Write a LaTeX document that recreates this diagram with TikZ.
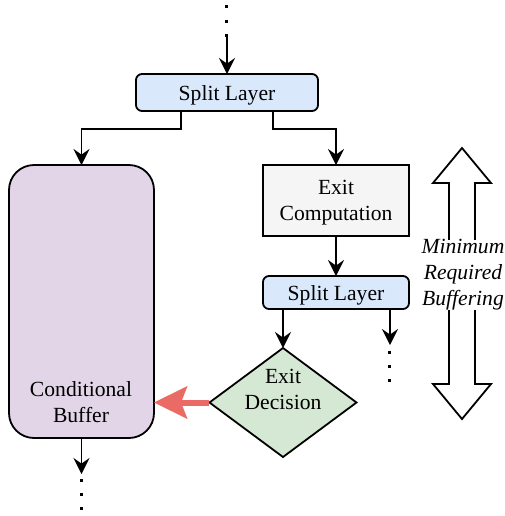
\documentclass[tikz,border=0pt]{standalone}
\usepackage{fontspec}
\setmainfont{Liberation Serif}
\usetikzlibrary{arrows.meta,shapes.geometric}
\definecolor{layerblue}{HTML}{DAE8FC}
\definecolor{bufpurple}{HTML}{E1D5E7}
\definecolor{compgrey}{HTML}{F5F5F5}
\definecolor{decgreen}{HTML}{D5E8D4}
\definecolor{flowred}{HTML}{EA6B66}
\begin{document}
\begin{tikzpicture}[x=0.5pt,y=-0.5pt,
  font=\fontsize{10.8}{13}\selectfont,
  box/.style={draw=black, line width=0.9pt, inner sep=0pt, outer sep=0pt, align=center, text depth=0pt},
  layerbox/.style={box, fill=layerblue, rounded corners=3pt, minimum width=91pt},
  arr/.style={line width=0.9pt, -{Stealth[length=8pt,width=8pt,inset=2.8pt]}},
  redarr/.style={draw=flowred, line width=3pt, -{Stealth[length=16.5pt,width=16pt,inset=3pt]}},
  dot/.style={fill=black}
]
\useasboundingbox (0,0) rectangle (505,516);

% blocks
\node[layerbox, minimum height=18.5pt] (split1) at (227,92.5) {Split Layer};
\node[box, fill=bufpurple, rounded corners=12.5pt, minimum width=72.5pt, minimum height=136.5pt] (buffer) at (81.5,301.5) {};
\node[align=center, inner sep=0pt] (buftext) at (81,402) {Conditional\\Buffer};
\node[box, fill=compgrey, minimum width=73pt, minimum height=35.5pt] (exitcomp) at (336,200.5) {Exit\\Computation};
\node[layerbox, minimum width=73pt, minimum height=16.5pt] (split2) at (336,292.5) {Split Layer};
\node[box, diamond, fill=decgreen, minimum width=73.5pt, minimum height=54.5pt] (decision) at (283,402.5) {};
\node[align=center, inner sep=0pt] (dectext) at (283,389.5) {Exit\\Decision};

% incoming flow from above
\coordinate (topin) at (227,37);
\foreach \yy in {6,21,35} \fill[dot] (225.5,\yy-1.5) rectangle ++(3,3);
\draw[arr] (topin) -- (split1.north);

% split into buffer and exit branch
\draw[arr] ([xshift=-23pt]split1.south) -- ++(0,18) -| (buffer.north);
\draw[arr] ([xshift=23pt]split1.south) -- ++(0,18) -| (exitcomp.north);
\draw[arr] (exitcomp.south) -- (split2.north);
\draw[arr] (decision.north |- split2.south) -- (decision.north);

% continuation of the main path
\coordinate (contright) at (390,345);
\draw[arr] (contright |- split2.south) -- (contright);
\foreach \yy in {352,366,380} \fill[dot] (388.5,\yy-1.5) rectangle ++(3,3);

% buffer output
\coordinate (bufout) at (81.5,474);
\draw[arr] (buffer.south) -- (bufout);
\foreach \yy in {480,494,508} \fill[dot] (80,\yy-1.5) rectangle ++(3,3);

% decision feeds the conditional buffer
\draw[redarr] (decision.west) -- (decision.west -| buffer.east);

% double-headed span arrow
\draw[line width=0.9pt, fill=white] (462,148) -- (491,183) -- (475,183) -- (475,384) -- (491,384)
  -- (462,419) -- (433,384) -- (449,384) -- (449,183) -- (433,183) -- cycle;
\node[fill=white, inner sep=0pt, align=center, font=\fontsize{10.8}{13}\selectfont\itshape] (spanlabel) at (463,275)
  {Minimum\\Required\\Buffering};
\end{tikzpicture}
\end{document}
